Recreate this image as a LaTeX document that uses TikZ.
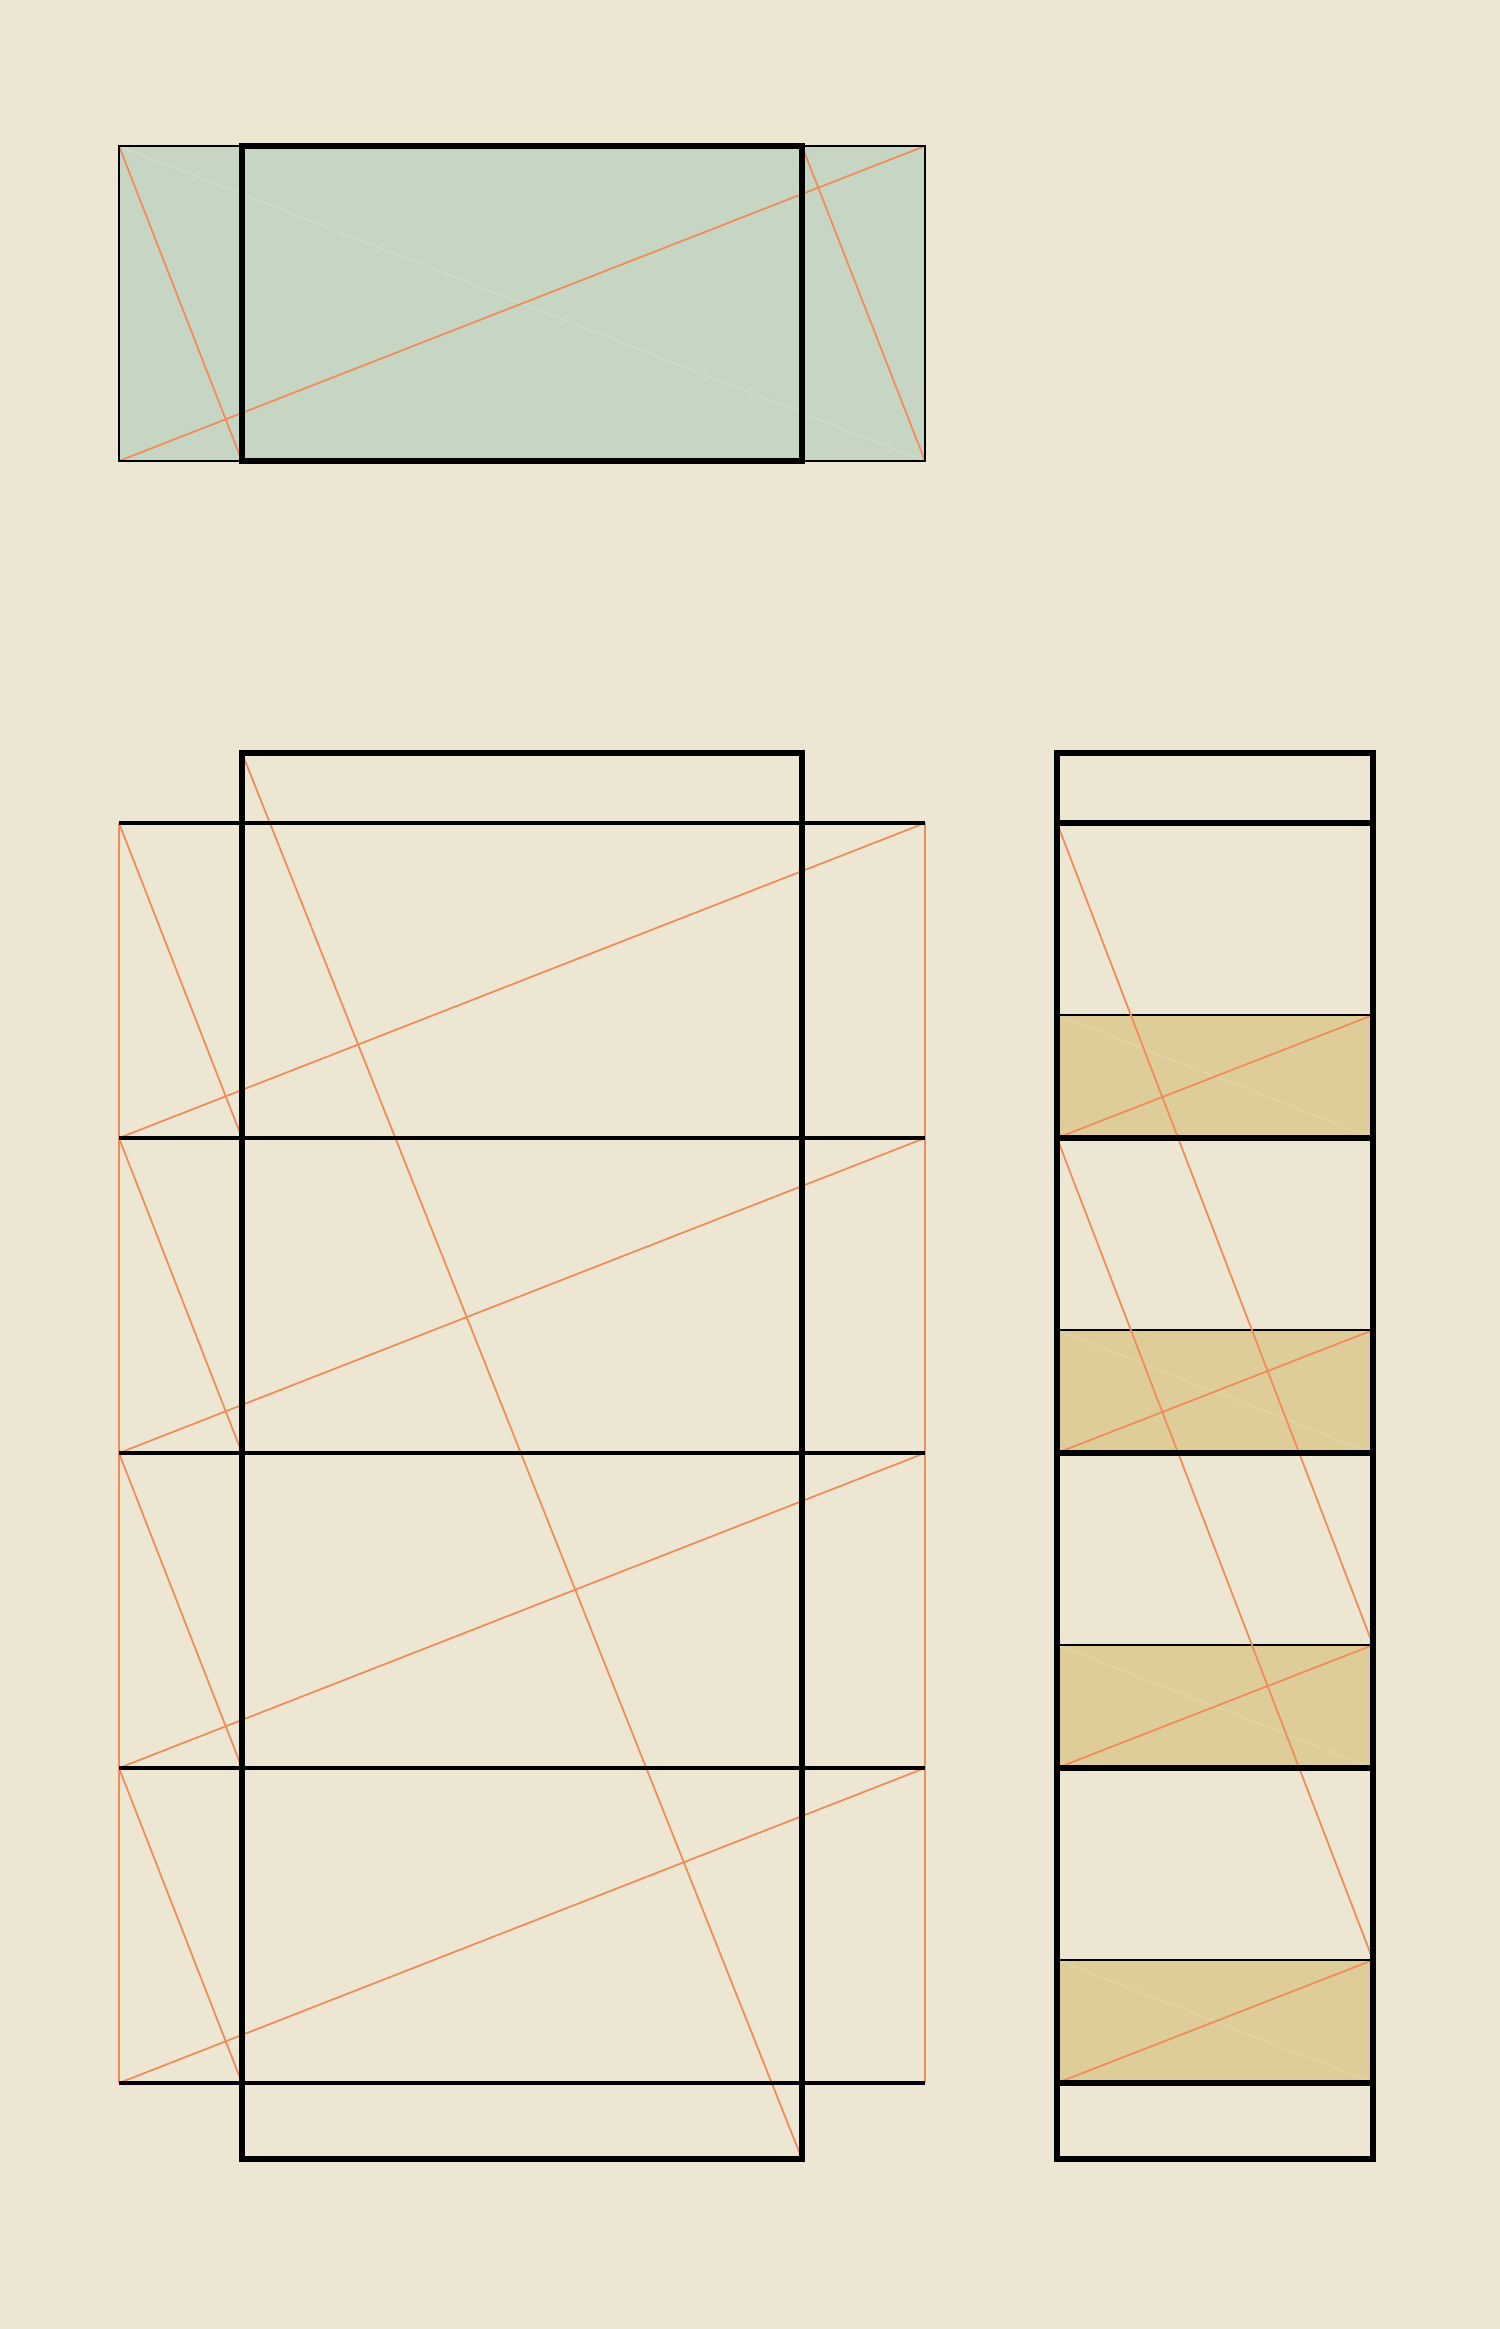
\documentclass[tikz,border=0pt]{standalone}
\definecolor{paper}{RGB}{236,230,210}
\definecolor{sage}{RGB}{199,214,194}
\definecolor{straw}{RGB}{222,205,152}
\definecolor{guidecol}{RGB}{240,140,92}
\tikzset{
  guideline/.style={draw=guidecol, line width=0.5pt},
  ghostline/.style={draw=white, opacity=0.2, line width=0.3pt},
  thinline/.style={draw=black, line width=0.8pt},
  foldline/.style={draw=black, line width=1.4pt},
  cutline/.style={draw=black, line width=1.8pt},
}
\begin{document}
\begin{tikzpicture}[x=0.01cm,y=-0.01cm]
		\useasboundingbox (0,0) rectangle (1500,2329);
		\fill[paper] (0,0) rectangle (1500,2329);
		% Top view
		\coordinate (tA) at (119,146);
		\coordinate (tB) at (925,461);
		\coordinate (tC) at (242,146);
		\coordinate (tD) at (802,461);
		\fill[sage] (tA) rectangle (tB);
		\draw[ghostline] (tA) -- (tB);
		\draw[guideline] (tA) -- (tC |- tB);
		\draw[guideline] (tA |- tB) -- (tB |- tA);
		\draw[guideline] (tD |- tA) -- (tB);
		\draw[thinline] (tA) rectangle (tB);
		\draw[cutline] (tC) rectangle (tD);
		
		% Unfolded strips
		\coordinate (sA) at (242,753);
		\coordinate (sB) at (802,2159);
		\draw[guideline] (119,823) -- (119,2083);
		\draw[guideline] (925,823) -- (925,2083);
		\foreach \y in {823,1138,1453,1768} {
			\draw[guideline] (119,\y) -- (242,\y+315);
			\draw[guideline] (119,\y+315) -- (925,\y);
		}
		\draw[guideline] (sA) -- (sB);
		\foreach \y in {823,1138,1453,1768,2083}
			\draw[foldline] (119,\y) -- (925,\y);
		\draw[cutline] (sA) rectangle (sB);
		
		% Side column
		\coordinate (cA) at (1057,753);
		\coordinate (cB) at (1373,2159);
		\foreach \y in {823,1138,1453,1768} {
			\fill[straw] (1057,\y+192) rectangle (1373,\y+315);
			\draw[ghostline] (1057,\y+192) -- (1373,\y+315);
			\draw[guideline] (1057,\y+315) -- (1373,\y+192);
			\draw[thinline] (1057,\y+192) -- (1373,\y+192);
		}
		\draw[guideline] (1057,823) -- (1373,1645);
		\draw[guideline] (1057,1138) -- (1373,1960);
		\foreach \y in {823,1138,1453,1768,2083}
			\draw[cutline] (1057,\y) -- (1373,\y);
		\draw[foldline, line width=1.6pt] (cA) rectangle (cB);
	\end{tikzpicture}
\end{document}
